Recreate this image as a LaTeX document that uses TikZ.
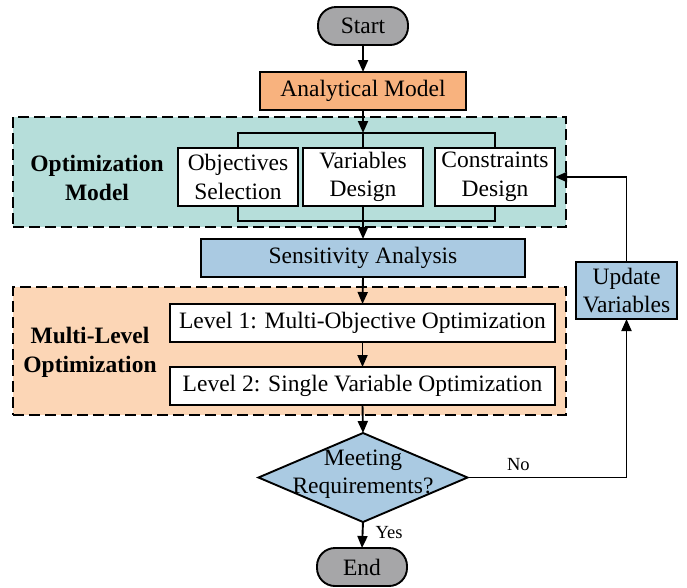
\documentclass[tikz,border=0pt]{standalone}
\usepackage{fontspec}
\setmainfont{Liberation Serif}
\usetikzlibrary{arrows.meta,shapes.geometric}
\definecolor{termgray}{RGB}{166,166,168}
\definecolor{anaorange}{RGB}{248,178,126}
\definecolor{regteal}{RGB}{182,222,218}
\definecolor{regorange}{RGB}{252,214,182}
\definecolor{procblue}{RGB}{170,202,226}
\begin{document}
\begin{tikzpicture}[x=1pt,y=-1pt,
  every node/.style={font=\fontsize{23.5}{28.5}\selectfont, inner sep=0pt, outer sep=0pt},
  box/.style={draw, line width=1.9pt, align=center},
  term/.style={box, fill=termgray, rounded corners=18pt, minimum width=90pt, minimum height=38pt},
  region/.style={draw, line width=2.2pt, dash pattern=on 11pt off 5pt},
  reglabel/.style={font=\fontsize{23.5}{29}\selectfont\bfseries, align=center},
  conn/.style={line width=1.9pt},
  arr/.style={conn, -{Triangle[length=12pt,width=10pt]}},
  lbl/.style={font=\fontsize{18.5}{22}\selectfont}]
\useasboundingbox (0,0) rectangle (687,587);

% dashed regions
\node[region, fill=regteal, minimum width=553pt, minimum height=110pt] (optreg) at (289.5,172) {};
\node[region, fill=regorange, minimum width=553pt, minimum height=128pt] (mlreg) at (289.5,351) {};
\node[reglabel] (optlbl) at (97,178) {Optimization\\Model};
\node[reglabel] (mllbl) at (90,352) {Multi-Level\\Optimization};

% flow nodes
\node[term] (start) at (363,26) {Start};
\node[box, fill=anaorange, minimum width=206pt, minimum height=38pt] (ana) at (363,91) {Analytical Model};
\node[box, fill=white, minimum width=120pt, minimum height=58pt] (obj) at (238,177) {Objectives\\Selection};
\node[box, fill=white, minimum width=120pt, minimum height=58pt] (var) at (363,177) {Variables\\Design};
\node[box, fill=white, minimum width=120pt, minimum height=58pt] (con) at (495,177) {Constraints\\Design};
\node[box, fill=procblue, minimum width=324pt, minimum height=38pt] (sens) at (363,258) {Sensitivity Analysis};
\node[box, fill=white, minimum width=385pt, minimum height=38pt] (lvl1) at (362.5,323) {Level 1: Multi-Objective Optimization};
\node[box, fill=white, minimum width=385pt, minimum height=38pt] (lvl2) at (362.5,386) {Level 2: Single Variable Optimization};
\node[box, fill=procblue, minimum width=101pt, minimum height=57pt] (upd) at (626.5,290.5) {Update\\Variables};
\node[diamond, draw, line width=1.9pt, fill=procblue, minimum width=209pt, minimum height=89pt] (dec) at (363,477.5) {};
\node[align=center] (dectxt) at (363,474) {Meeting\\Requirements?};
\node[term] (end) at (362,567) {End};

% branching connectors
\coordinate (br) at (363,133);
\coordinate (jn) at (363,221);
\draw[arr] (start.south) -- (ana.north);
\draw[arr] (ana.south) -- (br);
\draw[conn] (obj.north) |- (br) -| (con.north);
\draw[conn] (var.north) -- (br);
\draw[conn] (obj.south) |- (jn) -| (con.south);
\draw[conn] (var.south) -- (jn);
\draw[arr] (jn) -- (sens.north);
\draw[arr] (sens.south) -- (lvl1.north);
\draw[arr] (lvl1.south) -- (lvl2.north);
\draw[arr] (lvl2.south) -- (dec.north);
\draw[arr] (dec.east) -| node[lbl, pos=0.16, above=7pt] {No} (upd.south);
\draw[arr] (upd.north) |- (con.east);
\draw[arr] (dec.south) -- node[lbl, right=13pt, pos=0.4] {Yes} (end.north);
\end{tikzpicture}
\end{document}
